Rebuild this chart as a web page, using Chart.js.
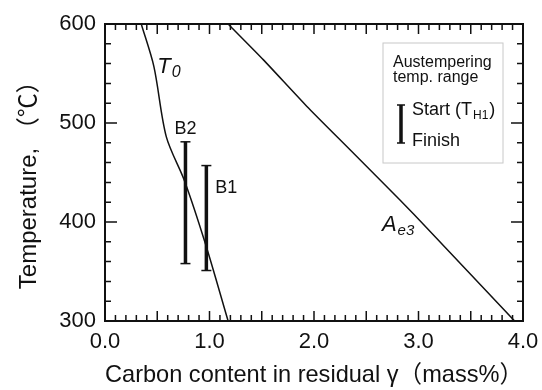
<!DOCTYPE html>
<html>
<head>
<meta charset="utf-8">
<script src="https://cdn.jsdelivr.net/npm/chart.js@4"></script>
<style>
body{margin:0;background:#fff;}
#wrap{width:542px;height:390px;}
</style>
</head>
<body>
<div id="wrap"><canvas id="c"></canvas></div>
<script>
// T0 curve
const t0X=[0.347,0.468,0.587,0.763,0.964,1.178];
const t0Y=[600,557,486,441,377,300];
// Ae3 curve
const ae3X=[1.178,1.514,1.93,2.345,2.825,3.08,3.92];
const ae3Y=[600,564,517,473,422,394,300];
// austempering ranges
const barNames=["B2","B1"];
const barX=[0.77,0.97];
const barStart=[481,457];
const barFinish=[358,351];
// ticks
const xTicks=[0,1,2,3,4];
const yTicks=[300,400,500,600];

const FONT="'Liberation Sans', Arial, Helvetica, 'Noto Sans CJK JP', sans-serif";
const INK="#111";

const pts=(xs,ys)=>xs.map((v,i)=>({x:v,y:ys[i]}));

let datasets=[
{data:pts(t0X,t0Y),showLine:true,borderColor:INK,borderWidth:1.5,pointRadius:0,tension:0.3},
{data:pts(ae3X,ae3Y),showLine:true,borderColor:INK,borderWidth:1.5,pointRadius:0,tension:0.2}
];
barNames.forEach((n,i)=>{
datasets.push({label:n,data:[{x:barX[i],y:barFinish[i]},{x:barX[i],y:barStart[i]}],
showLine:true,borderColor:INK,borderWidth:3.5,
pointStyle:"line",pointRadius:5,pointBorderWidth:1.5,pointBorderColor:INK});
});

function sub(ctx,x,y,main,small,f1,f2,italic){
ctx.font=(italic?"italic ":"")+f1+"px "+FONT;
ctx.fillText(main,x,y);
let w=ctx.measureText(main).width;
ctx.font=(italic?"italic ":"")+f2+"px "+FONT;
ctx.fillText(small,x+w+1,y+4);
return x+w+1+ctx.measureText(small).width;
}

const frame={
id:"frame",
afterDatasetsDraw(chart){
const {ctx,chartArea:a,scales:{x,y}}=chart;
ctx.save();
ctx.strokeStyle=INK;
ctx.lineWidth=2;
ctx.strokeRect(a.left,a.top,a.right-a.left,a.bottom-a.top);
ctx.lineWidth=1.5;
ctx.beginPath();
for(let i=0;i<=40;i++){
let px=x.getPixelForValue(i/10);
let len=i%5==0?10:6;
ctx.moveTo(px,a.bottom);ctx.lineTo(px,a.bottom-len);
ctx.moveTo(px,a.top);ctx.lineTo(px,a.top+len);
}
for(let v=300;v<=600;v+=20){
let py=y.getPixelForValue(v);
let len=v%100==0?12:6;
ctx.moveTo(a.left,py);ctx.lineTo(a.left+len,py);
ctx.moveTo(a.right,py);ctx.lineTo(a.right-len,py);
}
ctx.stroke();

ctx.fillStyle=INK;
ctx.textBaseline="alphabetic";
ctx.textAlign="left";
// curve labels
sub(ctx,x.getPixelForValue(0.5),y.getPixelForValue(551),"T","0",22,16,true);
sub(ctx,x.getPixelForValue(2.65),y.getPixelForValue(391),"A","e3",22,15,true);
// bar labels
ctx.font="18px "+FONT;
ctx.textAlign="center";
ctx.fillText(barNames[0],x.getPixelForValue(barX[0]),y.getPixelForValue(barStart[0])-8);
ctx.textAlign="left";
ctx.fillText(barNames[1],x.getPixelForValue(barX[1])+9,y.getPixelForValue(429));

// legend box
let bx=a.right-140,by=a.top+19;
ctx.strokeStyle="#c8c8c8";
ctx.lineWidth=1;
ctx.strokeRect(bx,by,120,120);
ctx.font="16px "+FONT;
ctx.fillText("Austempering",bx+10,by+24);
ctx.fillText("temp. range",bx+10,by+39);
ctx.strokeStyle=INK;
ctx.lineWidth=3.5;
ctx.beginPath();ctx.moveTo(bx+18,by+62);ctx.lineTo(bx+18,by+100);ctx.stroke();
ctx.lineWidth=1.5;
ctx.beginPath();
ctx.moveTo(bx+14,by+62);ctx.lineTo(bx+22,by+62);
ctx.moveTo(bx+14,by+100);ctx.lineTo(bx+22,by+100);
ctx.stroke();
let ex=sub(ctx,bx+29,by+72,"Start (T","H1",18,12,false);
ctx.font="18px "+FONT;
ctx.fillText(")",ex+1,by+72);
ctx.fillText("Finish",bx+29,by+103);
ctx.restore();
}
};

new Chart(document.getElementById("c"),{
type:"scatter",
data:{datasets:datasets},
options:{
responsive:true,
maintainAspectRatio:false,
animation:false,
layout:{padding:{top:24,right:19,left:0,bottom:0}},
plugins:{legend:{display:false},tooltip:{enabled:false}},
scales:{
x:{
type:"linear",min:0,max:4,
afterBuildTicks:s=>{s.ticks=xTicks.map(v=>({value:v}));},
afterFit:s=>{s.height=69;s.paddingLeft=0;s.paddingRight=0;},
grid:{display:false,drawTicks:false},
border:{display:false},
ticks:{color:INK,padding:8,font:{size:22,family:FONT},callback:v=>v.toFixed(1)},
title:{display:true,text:"Carbon content in residual γ（mass%）",color:INK,font:{size:24,family:FONT},padding:{top:0,bottom:0}}
},
y:{
type:"linear",min:300,max:600,
afterBuildTicks:s=>{s.ticks=yTicks.map(v=>({value:v}));},
afterFit:s=>{s.width=105;s.paddingTop=0;s.paddingBottom=0;},
grid:{display:false,drawTicks:false},
border:{display:false},
ticks:{color:INK,padding:9,font:{size:22,family:FONT}},
title:{display:true,text:"Temperature, （℃）  ",color:INK,font:{size:24,family:FONT},padding:{top:15,bottom:0}}
}
}
},
plugins:[frame]
});
</script>
</body>
</html>
